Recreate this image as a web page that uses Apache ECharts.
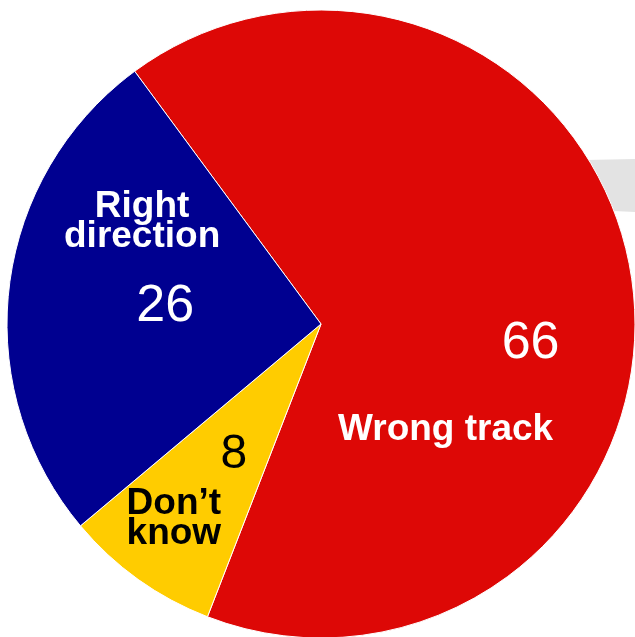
<!DOCTYPE html>
<html>
<head>
<meta charset="utf-8">
<script src="https://cdn.jsdelivr.net/npm/echarts@6/dist/echarts.min.js"></script>
<style>
html,body{margin:0;padding:0;background:#fff;}
#chart{width:635px;height:637px;}
</style>
</head>
<body>
<div id="chart"></div>
<script>
// ---- data ----
const categories = ['Wrong track', 'Don\u2019t know', 'Right direction'];
const values = [66, 8, 26];
const nameLabels = ['Wrong track', 'Don\u2019t\nknow', 'Right\ndirection'];

// ---- styles ----
const sliceColors = ['#DD0806', '#FFCC00', '#000090'];
const textColors = ['#ffffff', '#000000', '#ffffff'];
const nameOffsets = [[-34, 127], [-54, 65], [-20, -83]];
const valueOffsets = [[51, 41], [6, 1], [3, 2]];
const valueSizes = [52, 48, 52];
const FONT = "'Liberation Sans', Arial, Helvetica, sans-serif";

const chart = echarts.init(document.getElementById('chart'), null, {renderer: 'canvas'});

const common = {
  type: 'pie',
  center: [321, 324],
  radius: 314,
  startAngle: 126.4,
  clockwise: true,
  avoidLabelOverlap: false,
  labelLine: {show: false},
  emphasis: {disabled: true},
  animation: false
};

const option = {
  backgroundColor: '#ffffff',
  tooltip: {show: false},
  graphic: [{
    type: 'polygon',
    z: -10,
    shape: {points: [[560, 160.5], [635, 159], [635, 212], [560, 208.5]]},
    style: {fill: '#E3E3E3'},
    silent: true
  }],
  series: [
    Object.assign({}, common, {
      name: 'slices',
      z: 2,
      itemStyle: {borderColor: '#ffffff', borderWidth: 1},
      label: {
        show: true,
        position: 'inside',
        fontFamily: FONT,
        fontWeight: 'bold',
        fontSize: 37,
        lineHeight: 30,
        formatter: function (p) { return nameLabels[p.dataIndex]; }
      },
      labelLayout: function (p) {
        const o = nameOffsets[p.dataIndex];
        return {dx: o[0], dy: o[1]};
      },
      data: categories.map(function (c, i) {
        return {
          name: c,
          value: values[i],
          itemStyle: {color: sliceColors[i]},
          label: {color: textColors[i]}
        };
      })
    }),
    Object.assign({}, common, {
      name: 'values',
      z: 3,
      silent: true,
      itemStyle: {color: 'transparent', borderWidth: 0},
      label: {
        show: true,
        position: 'inside',
        fontFamily: FONT,
        fontWeight: 'normal',
        formatter: function (p) { return String(values[p.dataIndex]); }
      },
      labelLayout: function (p) {
        const o = valueOffsets[p.dataIndex];
        return {dx: o[0], dy: o[1]};
      },
      data: categories.map(function (c, i) {
        return {
          name: c,
          value: values[i],
          label: {color: textColors[i], fontSize: valueSizes[i]}
        };
      })
    })
  ]
};

chart.setOption(option);
</script>
</body>
</html>
